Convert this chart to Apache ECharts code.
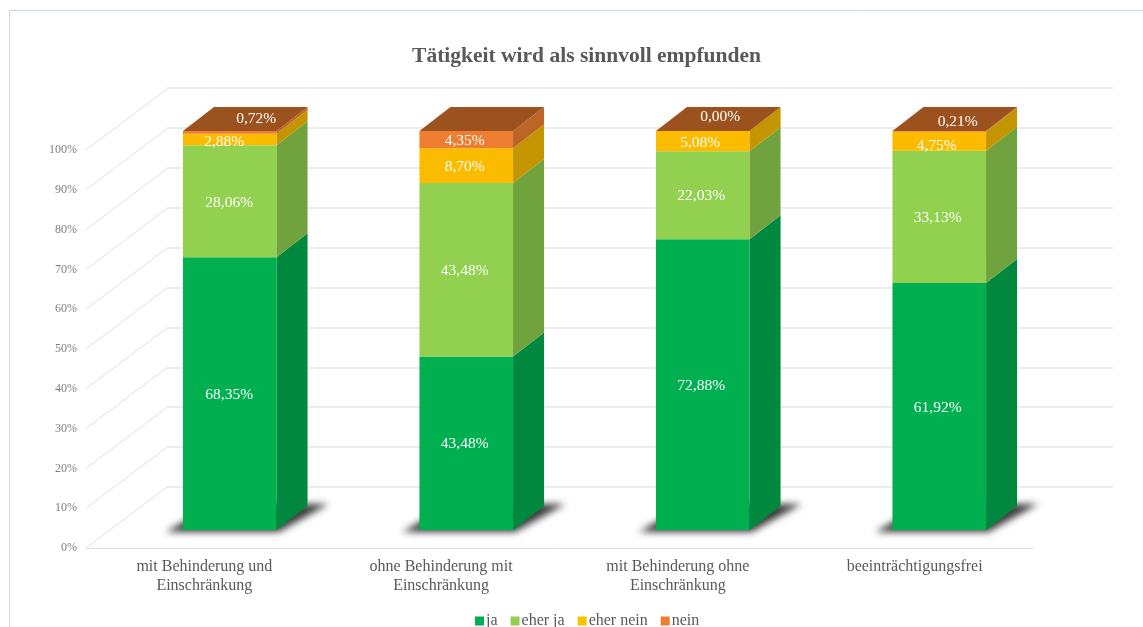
<!DOCTYPE html>
<html><head><meta charset="utf-8">
<style>html,body{margin:0;padding:0;background:#fff}#c{width:1143px;height:627px}</style>
<script src="https://cdn.jsdelivr.net/npm/echarts@6/dist/echarts.min.js"></script>
</head><body><div id="c"></div>
<script>
const categories = ['mit Behinderung und\nEinschränkung','ohne Behinderung mit\nEinschränkung','mit Behinderung ohne\nEinschränkung','beeinträchtigungsfrei'];
const ja = [68.35,43.48,72.88,61.92];
const eherJa = [28.06,43.48,22.03,33.13];
const eherNein = [2.88,8.70,5.08,4.75];
const nein = [0.72,4.35,0.00,0.21];
const yTicks = [0,10,20,30,40,50,60,70,80,90,100];
const FONT = '"Liberation Serif", serif';

const styles = [
  {name:'ja', values:ja, front:'#00B050', side:'#00893E', nudge:[[-1,1],[-2,1],[-2,1],[-2,1]]},
  {name:'eher ja', values:eherJa, front:'#92D050', side:'#70A33E', nudge:[[-1,2],[-2,1],[-2,1],[-2,1]]},
  {name:'eher nein', values:eherNein, front:'#FBBC00', side:'#C49500', nudge:[[-6,2],[-2,1],[-3,2],[-3,5]]},
  {name:'nein', values:nein, front:'#ED7D31', side:'#BD6427', top:'#9C521F', nudge:[[26,-13],[-2,1],[17,-14],[18,-9]]}
];
const DX = 31, DY = -24, WALL_DX = 81, WALL_DY = -61, OFF = 3000;

function poly(points, fill){
  return {type:'polygon', shape:{points}, style:{fill}};
}
function makeBarSeries(s, idx){
  const data = s.values.map((v,i)=>{
    let base = 0;
    for(let k=0;k<idx;k++) base += styles[k].values[i];
    return [i, base, base+v, v];
  });
  return {
    type:'custom', name:s.name, xAxisIndex:2, yAxisIndex:2, clip:false, silent:true,
    itemStyle:{color:s.name==='eher nein'?'#FFC000':s.front},
    encode:{x:0,y:2}, data, z:idx===0?3:4,
    renderItem(params, api){
      const i=api.value(0), b=api.value(1), t=api.value(2), v=api.value(3);
      const c=api.coord([i,0]), w=api.size([1,0])[0]*0.4;
      const x0=c[0]-w/2, x1=c[0]+w/2-1;
      const yb=api.coord([i,b])[1], yt=api.coord([i,t])[1];
      const kids=[];
      if(idx===0){
        const by=c[1];
        kids.push({type:'polygon',shape:{points:[
            [x0-17-OFF,by+2],[x1+2-OFF,by+2],[x1+DX+21-OFF,by+DY-2],[x0+DX-OFF,by+DY-2]]},
          style:{fill:'#000',shadowBlur:7,shadowColor:'rgba(50,50,50,0.95)',shadowOffsetX:OFF}});
      }
      kids.push(poly([[x0,yb],[x1,yb],[x1,yt],[x0,yt]],s.front));
      kids.push(poly([[x1,yb],[x1+DX,yb+DY],[x1+DX,yt+DY],[x1,yt]],s.side));
      if(s.top) kids.push(poly([[x0,yt],[x1,yt],[x1+DX,yt+DY],[x0+DX,yt+DY]],s.top));
      const n=s.nudge[i];
      kids.push({type:'text',z2:10,style:{
        text:v.toFixed(2).replace('.',',')+'%',x:c[0]+n[0],y:(yb+yt)/2+n[1],
        fill:'#fff',font:'15.5px '+FONT,align:'center',verticalAlign:'middle'}});
      return {type:'group',children:kids};
    }
  };
}

const chart = echarts.init(document.getElementById('c'),null,{renderer:'canvas'});
chart.setOption({
  animation:false,
  backgroundColor:'#fff',
  title:{text:'Tätigkeit wird als sinnvoll empfunden',left:581.5,top:40,textAlign:'center',
    textStyle:{fontFamily:FONT,fontSize:21.5,fontWeight:'bold',color:'#595959'}},
  legend:{data:styles.map(s=>s.name),left:470,top:608,icon:'rect',itemWidth:9,itemHeight:9,itemGap:13,
    selectedMode:false,textStyle:{fontFamily:FONT,fontSize:16,color:'#595959',padding:[0,0,0,-3]}},
  graphic:[{type:'rect',silent:true,z:-1,shape:{x:9.5,y:10.5,width:1300,height:800},
    style:{fill:'none',stroke:'#c3d6f0',lineWidth:1}}],
  grid:[
    {left:86,top:150,width:947,height:398},
    {left:167,top:88,width:946,height:399},
    {left:112,top:131,width:946,height:399}
  ],
  xAxis:[
    {gridIndex:0,type:'category',data:categories,axisTick:{show:false},
      axisLine:{lineStyle:{color:'#dedede',width:1}},
      axisLabel:{margin:9,fontFamily:FONT,fontSize:16,lineHeight:19,color:'#595959',interval:0}},
    {gridIndex:1,type:'category',data:categories,show:false},
    {gridIndex:2,type:'category',data:categories,show:false}
  ],
  yAxis:[
    {gridIndex:0,type:'value',min:0,max:100,interval:10,splitLine:{show:false},axisLine:{show:false},axisTick:{show:false},
      axisLabel:{formatter:'{value}%',margin:9,fontFamily:FONT,fontSize:12,color:'#7f7f7f'}},
    {gridIndex:1,type:'value',min:0,max:100,interval:10,axisLine:{show:false},axisTick:{show:false},axisLabel:{show:false},
      splitLine:{show:true,lineStyle:{color:'#e6e6e6',width:1.5}}},
    {gridIndex:2,type:'value',min:0,max:100,interval:10,show:false,splitLine:{show:false}}
  ],
  series:[
    {type:'custom',name:'wall',xAxisIndex:0,yAxisIndex:0,clip:false,silent:true,z:1,
      data:yTicks.map(v=>[0,v]),encode:{x:0,y:1},
      renderItem(params,api){
        const y=api.coord([0,api.value(1)])[1], x=params.coordSys.x;
        return {type:'line',shape:{x1:x,y1:y,x2:x+WALL_DX,y2:y+WALL_DY},style:{stroke:'#e0e0e0',lineWidth:1}};
      }},
    ...styles.map(makeBarSeries)
  ]
});
</script></body></html>
